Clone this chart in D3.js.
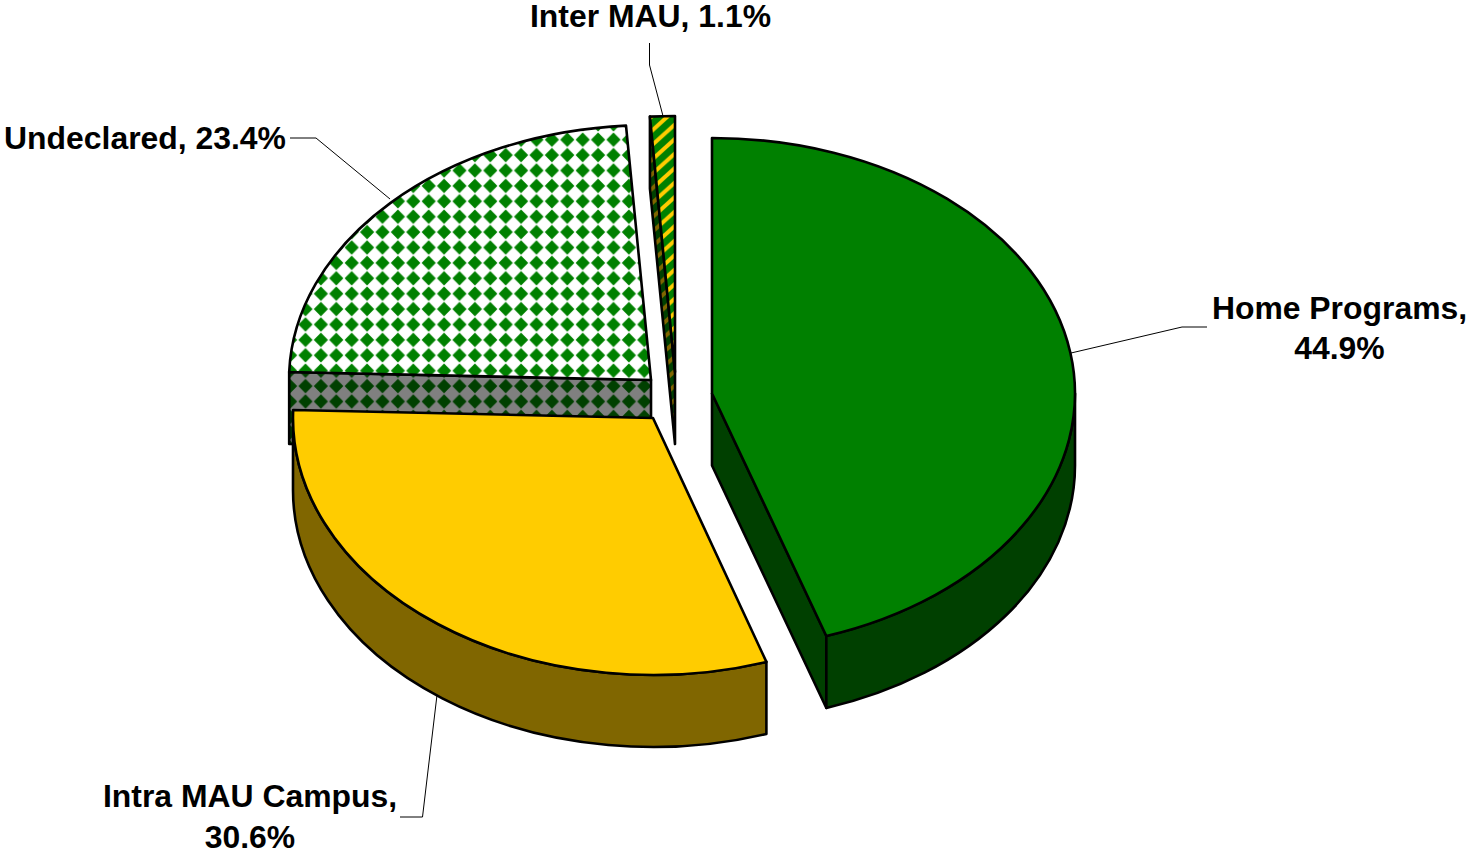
<!DOCTYPE html>
<html><head><meta charset="utf-8">
<script src="https://cdnjs.cloudflare.com/ajax/libs/d3/7.8.5/d3.min.js"></script>
<style>html,body{margin:0;padding:0;background:#fff;overflow:hidden}svg{display:block}
text{font-family:"Liberation Sans",Arial,sans-serif;font-weight:700;font-size:31.9px;fill:#000}</style>
</head><body><svg id="c" width="1468" height="850"></svg>
<script>
const categories = ["Home Programs", "Intra MAU Campus", "Undeclared", "Inter MAU"];
const shares = [44.9, 30.6, 23.4, 1.1];
const labelLines = [["Home Programs,", "44.9%"], ["Intra MAU Campus,", "30.6%"], ["Undeclared, 23.4%"], ["Inter MAU, 1.1%"]];

const DEPTH = 72;
const radii = [[363,255.5],[360,257],[362,255],[363,256]];
const centers = [[712,393.5],[653,418],[651,380],[675,372]];
const tops = ["#008000","#FFCC00","url(#diaTop)","url(#strTop)"];
const walls = ["#004000","#806600","url(#diaSide)","url(#strSide)"];
const leaders = [
  [[1071,353],[1182,327],[1207,327]],
  [[437,695],[422.5,817],[400,817]],
  [[390,199],[316,138],[290,138]],
  [[663,116],[649.5,65],[649.5,43]]
];
const labelPos = [
  {x:1339.5,y:319,dy:40},
  {x:250,y:807,dy:41},
  {x:145,y:149,dy:0},
  {x:650.5,y:27,dy:0}
];

const svg = d3.select("#c");
const defs = svg.append("defs");
function diamond(id,bg,fg){
  const p=15.4,r=7.1;
  const pat=defs.append("pattern").attr("id",id).attr("patternUnits","userSpaceOnUse")
    .attr("x",413.3-p/2).attr("y",216.7-p/2).attr("width",p).attr("height",p);
  pat.append("rect").attr("width",p).attr("height",p).attr("fill",bg);
  pat.append("path").attr("d",`M${p/2-r},${p/2}L${p/2},${p/2-r}L${p/2+r},${p/2}L${p/2},${p/2+r}Z`).attr("fill",fg);
}
diamond("diaTop","#fff","#008000");
diamond("diaSide","#808080","#004000");
function stripe(id,bg,fg){
  const w=16,h=14.5;
  const pat=defs.append("pattern").attr("id",id).attr("patternUnits","userSpaceOnUse")
    .attr("x",650).attr("y",118).attr("width",w).attr("height",h);
  pat.append("rect").attr("width",w).attr("height",h).attr("fill",bg);
  [[-w,h,w,-h],[-w,2*h,2*w,-h],[0,2*h,2*w,0]].forEach(([a,b,c,d])=>{
    pat.append("line").attr("x1",a).attr("y1",b).attr("x2",c).attr("y2",d).attr("stroke",fg).attr("stroke-width",4);
  });
}
stripe("strTop","#008000","#FFCC00");
stripe("strSide","#004000","#806600");

const arcs = d3.pie().sort(null).value(d=>d).startAngle(0).endAngle(2*Math.PI)(shares);
const pt=(i,t,dz=0)=>[centers[i][0]+radii[i][0]*Math.sin(t),centers[i][1]-radii[i][1]*Math.cos(t)+dz];
const ell=(i,p,sweep,large)=>`A${radii[i][0]},${radii[i][1]} 0 ${large?1:0} ${sweep} ${p[0]},${p[1]}`;
function shape(d,fill){
  return svg.append("path").attr("d",d).attr("fill",fill)
    .attr("stroke","#000").attr("stroke-width",2.6).attr("stroke-linejoin","round");
}
function rimFace(i,a,b){
  const large=b-a>Math.PI;
  return `M${pt(i,a)}${ell(i,pt(i,b),1,large)}L${pt(i,b,DEPTH)}${ell(i,pt(i,a,DEPTH),0,large)}Z`;
}
function cutFace(i,t){
  const c=centers[i];
  return `M${c}L${pt(i,t)}L${pt(i,t,DEPTH)}L${c[0]},${c[1]+DEPTH}Z`;
}
function topFace(i,a,b){
  return `M${centers[i]}L${pt(i,a)}${ell(i,pt(i,b),1,b-a>Math.PI)}Z`;
}
const PI=Math.PI;
// painter's order: Inter, Undeclared, Home, Intra
const cutAngle = [d=>d.endAngle, null, d=>d.startAngle, d=>d.startAngle];
[3,2,0,1].forEach(i=>{
  const a=arcs[i].startAngle,b=arcs[i].endAngle;
  if(cutAngle[i]) shape(cutFace(i,cutAngle[i](arcs[i])),walls[i]);
  const ra=Math.max(a,PI/2), rb=Math.min(b,3*PI/2);
  if(rb>ra) shape(rimFace(i,ra,rb),walls[i]);
  shape(topFace(i,a,b),tops[i]);
});

const line=d3.line();
leaders.forEach(l=>svg.append("path").attr("d",line(l)).attr("fill","none").attr("stroke","#000").attr("stroke-width",1));

labelLines.forEach((ls,i)=>{
  const t=svg.append("text").attr("text-anchor","middle");
  ls.forEach((s,j)=>t.append("tspan").attr("x",labelPos[i].x).attr("y",labelPos[i].y+j*labelPos[i].dy).text(s));
});
</script></body></html>
